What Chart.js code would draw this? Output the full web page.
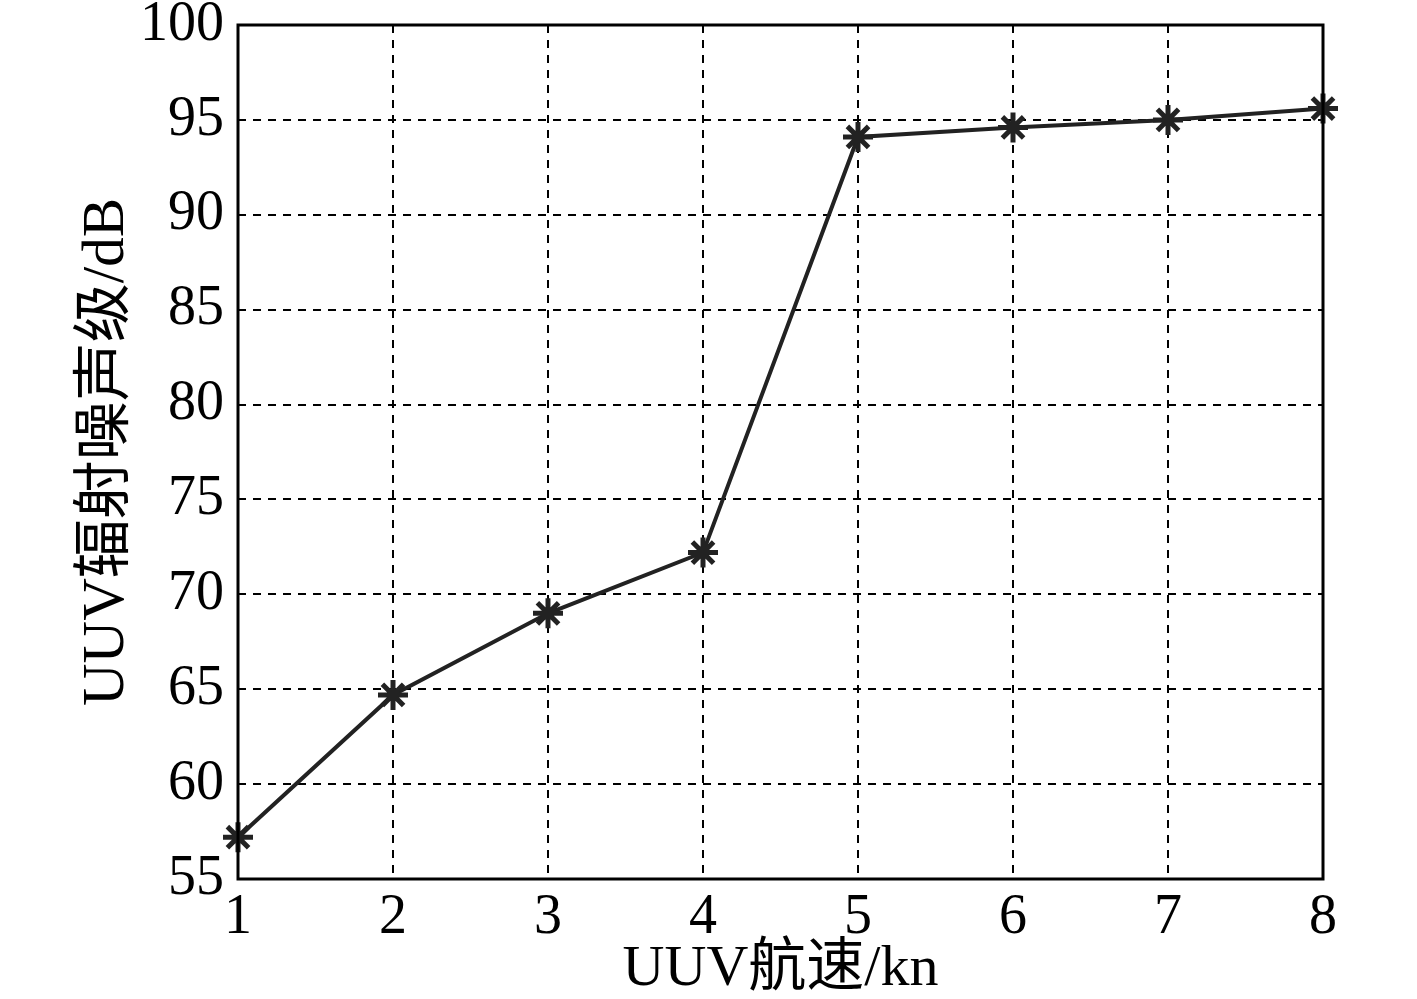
<!DOCTYPE html>
<html>
<head>
<meta charset="utf-8">
<script src="https://cdn.jsdelivr.net/npm/chart.js@4.4.1/dist/chart.umd.min.js"></script>
<style>
  html, body { margin: 0; padding: 0; background: #fff; }
  #wrap { width: 1417px; height: 999px; }
</style>
</head>
<body>
<div id="wrap"><canvas id="c" width="1417" height="999"></canvas></div>
<script>
const speeds = [1, 2, 3, 4, 5, 6, 7, 8];
const noiseLevels = [57.2, 64.7, 69.0, 72.2, 94.1, 94.6, 95.0, 95.6];
const xTicks = [1, 2, 3, 4, 5, 6, 7, 8];
const yTicks = [55, 60, 65, 70, 75, 80, 85, 90, 95, 100];

const serif = '"Liberation Serif", "Times New Roman", "Noto Sans CJK SC", serif';

// solid frame around the plot area, like matlab "box on"
const boxPlugin = {
    id: 'box',
    afterDatasetsDraw(chart) {
        const a = chart.chartArea;
        const ctx = chart.ctx;
        ctx.save();
        ctx.strokeStyle = '#000';
        ctx.lineWidth = 3;
        ctx.setLineDash([]);
        ctx.strokeRect(a.left, a.top, a.right - a.left, a.bottom - a.top);
        ctx.restore();
    }
};

new Chart(document.getElementById('c'), {
    type: 'line',
    data: {
        datasets: [
            {
                data: speeds.map((s, i) => ({x: s, y: noiseLevels[i]})),
                borderColor: '#222',
                backgroundColor: '#222',
                borderWidth: 4,
                pointStyle: 'star',
                pointRadius: 15,
                pointBorderWidth: 5,
                pointBorderColor: '#222',
                fill: false,
                tension: 0,
                clip: false
            }
        ]
    },
    options: {
        responsive: false,
        animation: false,
        layout: {
            padding: {top: 25, right: 94, bottom: 0, left: 0}
        },
        plugins: {
            legend: {display: false},
            tooltip: {enabled: false}
        },
        scales: {
            x: {
                type: 'linear',
                min: 1,
                max: 8,
                afterBuildTicks: (s) => { s.ticks = xTicks.map(v => ({value: v})); },
                afterFit: (s) => { s.height = 120; },
                grid: {
                    color: '#000',
                    lineWidth: 2,
                    drawTicks: false
                },
                border: {display: false, dash: [8, 7]},
                ticks: {
                    color: '#000',
                    font: {family: serif, size: 56, lineHeight: 0.6},
                    padding: 22,
                    maxRotation: 0
                },
                title: {
                    display: true,
                    text: 'UUV航速/kn',
                    color: '#000',
                    font: {family: serif, size: 58, lineHeight: 1.0},
                    padding: {top: 0, bottom: 0}
                }
            },
            y: {
                min: 55,
                max: 100,
                afterBuildTicks: (s) => { s.ticks = yTicks.map(v => ({value: v})); },
                afterFit: (s) => { s.width = 238; },
                grid: {
                    color: '#000',
                    lineWidth: 2,
                    drawTicks: false
                },
                border: {display: false, dash: [8, 7]},
                ticks: {
                    color: '#000',
                    font: {family: serif, size: 56, lineHeight: 0.3},
                    padding: 14
                },
                title: {
                    display: true,
                    text: 'UUV辐射噪声级/dB',
                    color: '#000',
                    font: {family: serif, size: 59, lineHeight: 1.0},
                    padding: {top: 78, bottom: 0}
                }
            }
        }
    },
    plugins: [boxPlugin]
});
</script>
</body>
</html>
